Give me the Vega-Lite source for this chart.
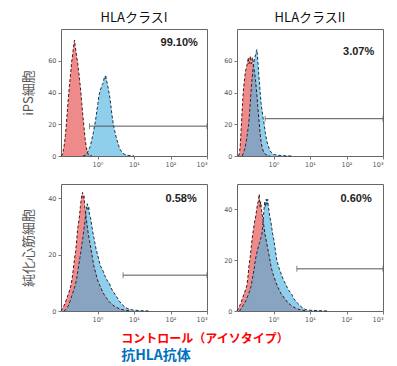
{
"$schema":"https://vega.github.io/schema/vega-lite/v6.json",
"padding":{"left":22,"top":11,"right":5,"bottom":5},
"background":"white",
"datasets":{
"hist":[
{"panel":"A","series":"control","logFL":-1,"count":0},{"panel":"A","series":"control","logFL":-0.97,"count":0.5},{"panel":"A","series":"control","logFL":-0.94,"count":3},{"panel":"A","series":"control","logFL":-0.91,"count":7},{"panel":"A","series":"control","logFL":-0.88,"count":13},{"panel":"A","series":"control","logFL":-0.86,"count":18},{"panel":"A","series":"control","logFL":-0.83,"count":27},{"panel":"A","series":"control","logFL":-0.8,"count":36},{"panel":"A","series":"control","logFL":-0.77,"count":44},{"panel":"A","series":"control","logFL":-0.74,"count":51},{"panel":"A","series":"control","logFL":-0.71,"count":59},{"panel":"A","series":"control","logFL":-0.69,"count":62},{"panel":"A","series":"control","logFL":-0.67,"count":66},{"panel":"A","series":"control","logFL":-0.65,"count":70},{"panel":"A","series":"control","logFL":-0.63,"count":73},{"panel":"A","series":"control","logFL":-0.61,"count":69},{"panel":"A","series":"control","logFL":-0.59,"count":66},{"panel":"A","series":"control","logFL":-0.57,"count":62},{"panel":"A","series":"control","logFL":-0.55,"count":60},{"panel":"A","series":"control","logFL":-0.52,"count":54},{"panel":"A","series":"control","logFL":-0.49,"count":48},{"panel":"A","series":"control","logFL":-0.46,"count":41},{"panel":"A","series":"control","logFL":-0.43,"count":33},{"panel":"A","series":"control","logFL":-0.4,"count":25},{"panel":"A","series":"control","logFL":-0.37,"count":18},{"panel":"A","series":"control","logFL":-0.34,"count":11},{"panel":"A","series":"control","logFL":-0.31,"count":6},{"panel":"A","series":"control","logFL":-0.28,"count":2.5},{"panel":"A","series":"control","logFL":-0.25,"count":1},{"panel":"A","series":"control","logFL":-0.2,"count":0.3},{"panel":"A","series":"control","logFL":-0.15,"count":0},
{"panel":"A","series":"antibody","logFL":-0.4,"count":0},{"panel":"A","series":"antibody","logFL":-0.33,"count":0.5},{"panel":"A","series":"antibody","logFL":-0.28,"count":2},{"panel":"A","series":"antibody","logFL":-0.24,"count":4},{"panel":"A","series":"antibody","logFL":-0.2,"count":6},{"panel":"A","series":"antibody","logFL":-0.16,"count":10},{"panel":"A","series":"antibody","logFL":-0.12,"count":14},{"panel":"A","series":"antibody","logFL":-0.08,"count":19},{"panel":"A","series":"antibody","logFL":-0.05,"count":23},{"panel":"A","series":"antibody","logFL":-0.02,"count":28},{"panel":"A","series":"antibody","logFL":0.01,"count":33},{"panel":"A","series":"antibody","logFL":0.04,"count":38},{"panel":"A","series":"antibody","logFL":0.07,"count":41},{"panel":"A","series":"antibody","logFL":0.1,"count":43},{"panel":"A","series":"antibody","logFL":0.13,"count":45},{"panel":"A","series":"antibody","logFL":0.16,"count":46},{"panel":"A","series":"antibody","logFL":0.18,"count":49},{"panel":"A","series":"antibody","logFL":0.2,"count":48},{"panel":"A","series":"antibody","logFL":0.22,"count":51},{"panel":"A","series":"antibody","logFL":0.24,"count":49},{"panel":"A","series":"antibody","logFL":0.27,"count":45},{"panel":"A","series":"antibody","logFL":0.3,"count":42},{"panel":"A","series":"antibody","logFL":0.33,"count":38},{"panel":"A","series":"antibody","logFL":0.36,"count":33},{"panel":"A","series":"antibody","logFL":0.39,"count":27},{"panel":"A","series":"antibody","logFL":0.42,"count":22},{"panel":"A","series":"antibody","logFL":0.45,"count":18},{"panel":"A","series":"antibody","logFL":0.48,"count":15},{"panel":"A","series":"antibody","logFL":0.52,"count":11},{"panel":"A","series":"antibody","logFL":0.56,"count":8},{"panel":"A","series":"antibody","logFL":0.6,"count":5},{"panel":"A","series":"antibody","logFL":0.65,"count":3},{"panel":"A","series":"antibody","logFL":0.7,"count":1.6},{"panel":"A","series":"antibody","logFL":0.75,"count":1},{"panel":"A","series":"antibody","logFL":0.82,"count":0.5},{"panel":"A","series":"antibody","logFL":0.9,"count":0.2},{"panel":"A","series":"antibody","logFL":1.0,"count":0},
{"panel":"B","series":"control","logFL":-0.96,"count":0},{"panel":"B","series":"control","logFL":-0.93,"count":2},{"panel":"B","series":"control","logFL":-0.91,"count":7},{"panel":"B","series":"control","logFL":-0.89,"count":15},{"panel":"B","series":"control","logFL":-0.87,"count":24},{"panel":"B","series":"control","logFL":-0.85,"count":32},{"panel":"B","series":"control","logFL":-0.83,"count":40},{"panel":"B","series":"control","logFL":-0.8,"count":47},{"panel":"B","series":"control","logFL":-0.77,"count":53},{"panel":"B","series":"control","logFL":-0.74,"count":56},{"panel":"B","series":"control","logFL":-0.71,"count":59},{"panel":"B","series":"control","logFL":-0.69,"count":62},{"panel":"B","series":"control","logFL":-0.67,"count":58},{"panel":"B","series":"control","logFL":-0.65,"count":61},{"panel":"B","series":"control","logFL":-0.63,"count":63},{"panel":"B","series":"control","logFL":-0.61,"count":58},{"panel":"B","series":"control","logFL":-0.59,"count":61},{"panel":"B","series":"control","logFL":-0.57,"count":62},{"panel":"B","series":"control","logFL":-0.55,"count":57},{"panel":"B","series":"control","logFL":-0.52,"count":53},{"panel":"B","series":"control","logFL":-0.49,"count":47},{"panel":"B","series":"control","logFL":-0.46,"count":40},{"panel":"B","series":"control","logFL":-0.43,"count":31},{"panel":"B","series":"control","logFL":-0.4,"count":23},{"panel":"B","series":"control","logFL":-0.37,"count":15},{"panel":"B","series":"control","logFL":-0.34,"count":9},{"panel":"B","series":"control","logFL":-0.31,"count":5},{"panel":"B","series":"control","logFL":-0.27,"count":2.5},{"panel":"B","series":"control","logFL":-0.22,"count":1},{"panel":"B","series":"control","logFL":-0.15,"count":0.3},{"panel":"B","series":"control","logFL":-0.1,"count":0},
{"panel":"B","series":"antibody","logFL":-0.86,"count":0},{"panel":"B","series":"antibody","logFL":-0.82,"count":2},{"panel":"B","series":"antibody","logFL":-0.78,"count":5},{"panel":"B","series":"antibody","logFL":-0.74,"count":10},{"panel":"B","series":"antibody","logFL":-0.71,"count":15},{"panel":"B","series":"antibody","logFL":-0.68,"count":20},{"panel":"B","series":"antibody","logFL":-0.65,"count":29},{"panel":"B","series":"antibody","logFL":-0.62,"count":39},{"panel":"B","series":"antibody","logFL":-0.59,"count":48},{"panel":"B","series":"antibody","logFL":-0.56,"count":55},{"panel":"B","series":"antibody","logFL":-0.53,"count":60},{"panel":"B","series":"antibody","logFL":-0.51,"count":62},{"panel":"B","series":"antibody","logFL":-0.49,"count":64},{"panel":"B","series":"antibody","logFL":-0.47,"count":66},{"panel":"B","series":"antibody","logFL":-0.455,"count":67},{"panel":"B","series":"antibody","logFL":-0.44,"count":63},{"panel":"B","series":"antibody","logFL":-0.42,"count":57},{"panel":"B","series":"antibody","logFL":-0.4,"count":50},{"panel":"B","series":"antibody","logFL":-0.38,"count":45},{"panel":"B","series":"antibody","logFL":-0.365,"count":40},{"panel":"B","series":"antibody","logFL":-0.34,"count":33},{"panel":"B","series":"antibody","logFL":-0.31,"count":28},{"panel":"B","series":"antibody","logFL":-0.28,"count":23},{"panel":"B","series":"antibody","logFL":-0.255,"count":20},{"panel":"B","series":"antibody","logFL":-0.22,"count":14},{"panel":"B","series":"antibody","logFL":-0.18,"count":9},{"panel":"B","series":"antibody","logFL":-0.14,"count":6},{"panel":"B","series":"antibody","logFL":-0.1,"count":3.5},{"panel":"B","series":"antibody","logFL":-0.05,"count":2},{"panel":"B","series":"antibody","logFL":0,"count":1},{"panel":"B","series":"antibody","logFL":0.1,"count":0.5},{"panel":"B","series":"antibody","logFL":0.2,"count":0.3},{"panel":"B","series":"antibody","logFL":0.35,"count":0.1},{"panel":"B","series":"antibody","logFL":0.5,"count":0},
{"panel":"C","series":"control","logFL":-1,"count":0},{"panel":"C","series":"control","logFL":-0.96,"count":0.8},{"panel":"C","series":"control","logFL":-0.92,"count":1.8},{"panel":"C","series":"control","logFL":-0.88,"count":3},{"panel":"C","series":"control","logFL":-0.84,"count":4.5},{"panel":"C","series":"control","logFL":-0.8,"count":6},{"panel":"C","series":"control","logFL":-0.76,"count":7.5},{"panel":"C","series":"control","logFL":-0.72,"count":9.5},{"panel":"C","series":"control","logFL":-0.69,"count":12},{"panel":"C","series":"control","logFL":-0.66,"count":15},{"panel":"C","series":"control","logFL":-0.63,"count":18.5},{"panel":"C","series":"control","logFL":-0.6,"count":21},{"panel":"C","series":"control","logFL":-0.57,"count":25},{"panel":"C","series":"control","logFL":-0.545,"count":29},{"panel":"C","series":"control","logFL":-0.52,"count":31},{"panel":"C","series":"control","logFL":-0.49,"count":34},{"panel":"C","series":"control","logFL":-0.47,"count":37},{"panel":"C","series":"control","logFL":-0.45,"count":39},{"panel":"C","series":"control","logFL":-0.43,"count":41},{"panel":"C","series":"control","logFL":-0.41,"count":42},{"panel":"C","series":"control","logFL":-0.39,"count":40},{"panel":"C","series":"control","logFL":-0.37,"count":41},{"panel":"C","series":"control","logFL":-0.35,"count":37},{"panel":"C","series":"control","logFL":-0.32,"count":34},{"panel":"C","series":"control","logFL":-0.29,"count":31},{"panel":"C","series":"control","logFL":-0.26,"count":28},{"panel":"C","series":"control","logFL":-0.22,"count":25},{"panel":"C","series":"control","logFL":-0.18,"count":22},{"panel":"C","series":"control","logFL":-0.14,"count":19},{"panel":"C","series":"control","logFL":-0.1,"count":16},{"panel":"C","series":"control","logFL":-0.05,"count":13.5},{"panel":"C","series":"control","logFL":0,"count":11},{"panel":"C","series":"control","logFL":0.05,"count":9.5},{"panel":"C","series":"control","logFL":0.1,"count":8},{"panel":"C","series":"control","logFL":0.15,"count":6.5},{"panel":"C","series":"control","logFL":0.2,"count":5.5},{"panel":"C","series":"control","logFL":0.25,"count":4.5},{"panel":"C","series":"control","logFL":0.3,"count":3.6},{"panel":"C","series":"control","logFL":0.4,"count":2.3},{"panel":"C","series":"control","logFL":0.5,"count":1.4},{"panel":"C","series":"control","logFL":0.6,"count":0.8},{"panel":"C","series":"control","logFL":0.7,"count":0.4},{"panel":"C","series":"control","logFL":0.8,"count":0.2},{"panel":"C","series":"control","logFL":0.9,"count":0},
{"panel":"C","series":"antibody","logFL":-0.92,"count":0},{"panel":"C","series":"antibody","logFL":-0.86,"count":0.6},{"panel":"C","series":"antibody","logFL":-0.8,"count":1.8},{"panel":"C","series":"antibody","logFL":-0.75,"count":3.5},{"panel":"C","series":"antibody","logFL":-0.7,"count":5.5},{"panel":"C","series":"antibody","logFL":-0.65,"count":7.5},{"panel":"C","series":"antibody","logFL":-0.6,"count":9.5},{"panel":"C","series":"antibody","logFL":-0.57,"count":11.5},{"panel":"C","series":"antibody","logFL":-0.54,"count":14},{"panel":"C","series":"antibody","logFL":-0.51,"count":16.5},{"panel":"C","series":"antibody","logFL":-0.48,"count":19},{"panel":"C","series":"antibody","logFL":-0.455,"count":21},{"panel":"C","series":"antibody","logFL":-0.43,"count":23.5},{"panel":"C","series":"antibody","logFL":-0.4,"count":26},{"panel":"C","series":"antibody","logFL":-0.38,"count":28},{"panel":"C","series":"antibody","logFL":-0.36,"count":30},{"panel":"C","series":"antibody","logFL":-0.34,"count":32},{"panel":"C","series":"antibody","logFL":-0.32,"count":35},{"panel":"C","series":"antibody","logFL":-0.3,"count":37},{"panel":"C","series":"antibody","logFL":-0.28,"count":38},{"panel":"C","series":"antibody","logFL":-0.26,"count":36},{"panel":"C","series":"antibody","logFL":-0.24,"count":37},{"panel":"C","series":"antibody","logFL":-0.22,"count":34},{"panel":"C","series":"antibody","logFL":-0.19,"count":33},{"panel":"C","series":"antibody","logFL":-0.16,"count":30.5},{"panel":"C","series":"antibody","logFL":-0.13,"count":28},{"panel":"C","series":"antibody","logFL":-0.1,"count":26},{"panel":"C","series":"antibody","logFL":-0.07,"count":24},{"panel":"C","series":"antibody","logFL":-0.04,"count":22},{"panel":"C","series":"antibody","logFL":0,"count":20},{"panel":"C","series":"antibody","logFL":0.04,"count":18},{"panel":"C","series":"antibody","logFL":0.08,"count":16},{"panel":"C","series":"antibody","logFL":0.12,"count":15},{"panel":"C","series":"antibody","logFL":0.16,"count":14},{"panel":"C","series":"antibody","logFL":0.2,"count":12.5},{"panel":"C","series":"antibody","logFL":0.24,"count":11.5},{"panel":"C","series":"antibody","logFL":0.28,"count":10.5},{"panel":"C","series":"antibody","logFL":0.32,"count":10},{"panel":"C","series":"antibody","logFL":0.36,"count":8.5},{"panel":"C","series":"antibody","logFL":0.4,"count":7.5},{"panel":"C","series":"antibody","logFL":0.45,"count":6.5},{"panel":"C","series":"antibody","logFL":0.5,"count":5.5},{"panel":"C","series":"antibody","logFL":0.55,"count":4.5},{"panel":"C","series":"antibody","logFL":0.6,"count":3.5},{"panel":"C","series":"antibody","logFL":0.65,"count":2.6},{"panel":"C","series":"antibody","logFL":0.7,"count":2},{"panel":"C","series":"antibody","logFL":0.75,"count":1.4},{"panel":"C","series":"antibody","logFL":0.8,"count":1},{"panel":"C","series":"antibody","logFL":0.9,"count":0.5},{"panel":"C","series":"antibody","logFL":1.0,"count":0.3},{"panel":"C","series":"antibody","logFL":1.2,"count":0.1},{"panel":"C","series":"antibody","logFL":1.4,"count":0},
{"panel":"D","series":"control","logFL":-1,"count":0},{"panel":"D","series":"control","logFL":-0.97,"count":0.8},{"panel":"D","series":"control","logFL":-0.93,"count":2},{"panel":"D","series":"control","logFL":-0.89,"count":3.2},{"panel":"D","series":"control","logFL":-0.85,"count":5},{"panel":"D","series":"control","logFL":-0.8,"count":7},{"panel":"D","series":"control","logFL":-0.76,"count":8.5},{"panel":"D","series":"control","logFL":-0.73,"count":10},{"panel":"D","series":"control","logFL":-0.7,"count":13.5},{"panel":"D","series":"control","logFL":-0.67,"count":18},{"panel":"D","series":"control","logFL":-0.64,"count":21},{"panel":"D","series":"control","logFL":-0.61,"count":25},{"panel":"D","series":"control","logFL":-0.58,"count":29},{"panel":"D","series":"control","logFL":-0.55,"count":32},{"panel":"D","series":"control","logFL":-0.52,"count":35},{"panel":"D","series":"control","logFL":-0.49,"count":37},{"panel":"D","series":"control","logFL":-0.46,"count":40},{"panel":"D","series":"control","logFL":-0.44,"count":42},{"panel":"D","series":"control","logFL":-0.42,"count":43},{"panel":"D","series":"control","logFL":-0.4,"count":45},{"panel":"D","series":"control","logFL":-0.39,"count":46},{"panel":"D","series":"control","logFL":-0.37,"count":41},{"panel":"D","series":"control","logFL":-0.35,"count":43},{"panel":"D","series":"control","logFL":-0.33,"count":40},{"panel":"D","series":"control","logFL":-0.3,"count":37},{"panel":"D","series":"control","logFL":-0.27,"count":34},{"panel":"D","series":"control","logFL":-0.23,"count":30},{"panel":"D","series":"control","logFL":-0.19,"count":27},{"panel":"D","series":"control","logFL":-0.15,"count":24},{"panel":"D","series":"control","logFL":-0.11,"count":21},{"panel":"D","series":"control","logFL":-0.06,"count":17},{"panel":"D","series":"control","logFL":0,"count":14},{"panel":"D","series":"control","logFL":0.05,"count":12},{"panel":"D","series":"control","logFL":0.1,"count":10},{"panel":"D","series":"control","logFL":0.15,"count":8.5},{"panel":"D","series":"control","logFL":0.2,"count":7},{"panel":"D","series":"control","logFL":0.3,"count":5},{"panel":"D","series":"control","logFL":0.4,"count":3.2},{"panel":"D","series":"control","logFL":0.5,"count":2},{"panel":"D","series":"control","logFL":0.6,"count":1.2},{"panel":"D","series":"control","logFL":0.7,"count":0.6},{"panel":"D","series":"control","logFL":0.8,"count":0.3},{"panel":"D","series":"control","logFL":0.9,"count":0},
{"panel":"D","series":"antibody","logFL":-0.93,"count":0},{"panel":"D","series":"antibody","logFL":-0.88,"count":1},{"panel":"D","series":"antibody","logFL":-0.82,"count":2.5},{"panel":"D","series":"antibody","logFL":-0.76,"count":4},{"panel":"D","series":"antibody","logFL":-0.7,"count":6},{"panel":"D","series":"antibody","logFL":-0.65,"count":8},{"panel":"D","series":"antibody","logFL":-0.61,"count":10},{"panel":"D","series":"antibody","logFL":-0.58,"count":12.5},{"panel":"D","series":"antibody","logFL":-0.55,"count":15},{"panel":"D","series":"antibody","logFL":-0.52,"count":17.5},{"panel":"D","series":"antibody","logFL":-0.5,"count":20},{"panel":"D","series":"antibody","logFL":-0.47,"count":22},{"panel":"D","series":"antibody","logFL":-0.44,"count":24},{"panel":"D","series":"antibody","logFL":-0.41,"count":25.5},{"panel":"D","series":"antibody","logFL":-0.38,"count":27},{"panel":"D","series":"antibody","logFL":-0.35,"count":28.5},{"panel":"D","series":"antibody","logFL":-0.32,"count":30},{"panel":"D","series":"antibody","logFL":-0.3,"count":33},{"panel":"D","series":"antibody","logFL":-0.28,"count":36},{"panel":"D","series":"antibody","logFL":-0.26,"count":40},{"panel":"D","series":"antibody","logFL":-0.24,"count":43},{"panel":"D","series":"antibody","logFL":-0.22,"count":41},{"panel":"D","series":"antibody","logFL":-0.2,"count":44},{"panel":"D","series":"antibody","logFL":-0.18,"count":42},{"panel":"D","series":"antibody","logFL":-0.16,"count":44},{"panel":"D","series":"antibody","logFL":-0.14,"count":41},{"panel":"D","series":"antibody","logFL":-0.12,"count":39},{"panel":"D","series":"antibody","logFL":-0.1,"count":37},{"panel":"D","series":"antibody","logFL":-0.07,"count":35},{"panel":"D","series":"antibody","logFL":-0.04,"count":32},{"panel":"D","series":"antibody","logFL":-0.02,"count":30},{"panel":"D","series":"antibody","logFL":0.01,"count":28},{"panel":"D","series":"antibody","logFL":0.04,"count":25},{"panel":"D","series":"antibody","logFL":0.07,"count":22},{"panel":"D","series":"antibody","logFL":0.09,"count":20},{"panel":"D","series":"antibody","logFL":0.12,"count":18.5},{"panel":"D","series":"antibody","logFL":0.15,"count":17},{"panel":"D","series":"antibody","logFL":0.2,"count":15},{"panel":"D","series":"antibody","logFL":0.25,"count":13},{"panel":"D","series":"antibody","logFL":0.3,"count":11.5},{"panel":"D","series":"antibody","logFL":0.35,"count":10},{"panel":"D","series":"antibody","logFL":0.4,"count":8.5},{"panel":"D","series":"antibody","logFL":0.45,"count":7.5},{"panel":"D","series":"antibody","logFL":0.5,"count":6.5},{"panel":"D","series":"antibody","logFL":0.55,"count":5},{"panel":"D","series":"antibody","logFL":0.6,"count":4},{"panel":"D","series":"antibody","logFL":0.65,"count":3.2},{"panel":"D","series":"antibody","logFL":0.7,"count":2.5},{"panel":"D","series":"antibody","logFL":0.75,"count":1.8},{"panel":"D","series":"antibody","logFL":0.8,"count":1.2},{"panel":"D","series":"antibody","logFL":0.85,"count":0.8},{"panel":"D","series":"antibody","logFL":0.9,"count":0.5},{"panel":"D","series":"antibody","logFL":1.0,"count":0.3},{"panel":"D","series":"antibody","logFL":1.2,"count":0.15},{"panel":"D","series":"antibody","logFL":1.5,"count":0}
],
"gate":[
{"panel":"A","logFL":-0.22,"logFL2":3,"count":18.8},
{"panel":"B","logFL":-0.23,"logFL2":3,"count":23.5},
{"panel":"C","logFL":0.7,"logFL2":3,"count":12.7},
{"panel":"D","logFL":0.64,"logFL2":3,"count":16.6}
],
"labels":[
{"panel":"A","logFL":2.75,"count":70.9,"label":"99.10%"},
{"panel":"B","logFL":2.76,"count":65.5,"label":"3.07%"},
{"panel":"C","logFL":2.72,"count":39.8,"label":"0.58%"},
{"panel":"D","logFL":2.69,"count":44.1,"label":"0.60%"}
]
},
"title":{"text":"コントロール（アイソタイプ）","subtitle":"抗HLA抗体","orient":"bottom","anchor":"start","frame":"bounds","dx":99,"offset":11,"font":"Noto Sans CJK JP","fontSize":12,"fontWeight":"bold","color":"#ff0000","subtitleFont":"Noto Sans CJK JP","subtitleFontSize":14,"subtitleFontWeight":"bold","subtitleColor":"#0070c0","subtitlePadding":3},
"vconcat":[
{"hconcat":[
{"width":146,"height":127,"title":"HLAクラスI","layer":[
{"data":{"name":"hist"},"transform":[{"filter":"datum.panel==='A'&&datum.series==='control'"}],"mark":{"type":"area","color":"#ef8a8a","opacity":1},
"encoding":{"x":{"field":"logFL","type":"quantitative","scale":{"domain":[-1,3]},"axis":{"values":[0,1,2,3],"title":null,"labelExpr":"datum.value===0?'10⁰':datum.value===1?'10¹':datum.value===2?'10²':'10³'"}},"y":{"field":"count","type":"quantitative","scale":{"domain":[0,77]},"axis":{"values":[0,20,40,60],"title":"iPS細胞"}}}},
{"data":{"name":"hist"},"transform":[{"filter":"datum.panel==='A'&&datum.series==='antibody'"}],"mark":{"type":"area","color":"#4db3df","opacity":0.63},"encoding":{"x":{"field":"logFL","type":"quantitative"},"y":{"field":"count","type":"quantitative"}}},
{"data":{"name":"hist"},"transform":[{"filter":"datum.panel==='A'&&datum.series==='control'"}],"mark":{"type":"line","color":"#4a1414","strokeDash":[3,2],"strokeWidth":1},"encoding":{"x":{"field":"logFL","type":"quantitative"},"y":{"field":"count","type":"quantitative"}}},
{"data":{"name":"hist"},"transform":[{"filter":"datum.panel==='A'&&datum.series==='antibody'"}],"mark":{"type":"line","color":"#163148","strokeDash":[3,2],"strokeWidth":1},"encoding":{"x":{"field":"logFL","type":"quantitative"},"y":{"field":"count","type":"quantitative"}}},
{"data":{"name":"gate"},"transform":[{"filter":"datum.panel==='A'"}],"mark":{"type":"rule","color":"#555","strokeWidth":1},"encoding":{"x":{"field":"logFL","type":"quantitative"},"x2":{"field":"logFL2"},"y":{"field":"count","type":"quantitative"}}},
{"data":{"name":"gate"},"transform":[{"filter":"datum.panel==='A'"}],"mark":{"type":"tick","orient":"vertical","size":6,"thickness":1,"color":"#555"},"encoding":{"x":{"field":"logFL","type":"quantitative"},"y":{"field":"count","type":"quantitative"}}},
{"data":{"name":"gate"},"transform":[{"filter":"datum.panel==='A'"}],"mark":{"type":"tick","orient":"vertical","size":6,"thickness":1,"color":"#555"},"encoding":{"x":{"field":"logFL2","type":"quantitative"},"y":{"field":"count","type":"quantitative"}}},
{"data":{"name":"labels"},"transform":[{"filter":"datum.panel==='A'"}],"mark":{"type":"text","align":"right","baseline":"middle","font":"Liberation Sans","fontSize":11,"fontWeight":"bold","color":"#222"},"encoding":{"x":{"field":"logFL","type":"quantitative"},"y":{"field":"count","type":"quantitative"},"text":{"field":"label"}}}
]},
{"width":146,"height":127,"title":"HLAクラスII","layer":[
{"data":{"name":"hist"},"transform":[{"filter":"datum.panel==='B'&&datum.series==='control'"}],"mark":{"type":"area","color":"#ef8a8a","opacity":1},
"encoding":{"x":{"field":"logFL","type":"quantitative","scale":{"domain":[-1,3]},"axis":{"values":[0,1,2,3],"title":null,"labelExpr":"datum.value===0?'10⁰':datum.value===1?'10¹':datum.value===2?'10²':'10³'"}},"y":{"field":"count","type":"quantitative","scale":{"domain":[0,71]},"axis":{"values":[0,20,40,60],"title":null}}}},
{"data":{"name":"hist"},"transform":[{"filter":"datum.panel==='B'&&datum.series==='antibody'"}],"mark":{"type":"area","color":"#4db3df","opacity":0.63},"encoding":{"x":{"field":"logFL","type":"quantitative"},"y":{"field":"count","type":"quantitative"}}},
{"data":{"name":"hist"},"transform":[{"filter":"datum.panel==='B'&&datum.series==='control'"}],"mark":{"type":"line","color":"#4a1414","strokeDash":[3,2],"strokeWidth":1},"encoding":{"x":{"field":"logFL","type":"quantitative"},"y":{"field":"count","type":"quantitative"}}},
{"data":{"name":"hist"},"transform":[{"filter":"datum.panel==='B'&&datum.series==='antibody'"}],"mark":{"type":"line","color":"#163148","strokeDash":[3,2],"strokeWidth":1},"encoding":{"x":{"field":"logFL","type":"quantitative"},"y":{"field":"count","type":"quantitative"}}},
{"data":{"name":"gate"},"transform":[{"filter":"datum.panel==='B'"}],"mark":{"type":"rule","color":"#555","strokeWidth":1},"encoding":{"x":{"field":"logFL","type":"quantitative"},"x2":{"field":"logFL2"},"y":{"field":"count","type":"quantitative"}}},
{"data":{"name":"gate"},"transform":[{"filter":"datum.panel==='B'"}],"mark":{"type":"tick","orient":"vertical","size":6,"thickness":1,"color":"#555"},"encoding":{"x":{"field":"logFL","type":"quantitative"},"y":{"field":"count","type":"quantitative"}}},
{"data":{"name":"gate"},"transform":[{"filter":"datum.panel==='B'"}],"mark":{"type":"tick","orient":"vertical","size":6,"thickness":1,"color":"#555"},"encoding":{"x":{"field":"logFL2","type":"quantitative"},"y":{"field":"count","type":"quantitative"}}},
{"data":{"name":"labels"},"transform":[{"filter":"datum.panel==='B'"}],"mark":{"type":"text","align":"right","baseline":"middle","font":"Liberation Sans","fontSize":11,"fontWeight":"bold","color":"#222"},"encoding":{"x":{"field":"logFL","type":"quantitative"},"y":{"field":"count","type":"quantitative"},"text":{"field":"label"}}}
]}
]},
{"hconcat":[
{"width":146,"height":127,"layer":[
{"data":{"name":"hist"},"transform":[{"filter":"datum.panel==='C'&&datum.series==='control'"}],"mark":{"type":"area","color":"#ef8a8a","opacity":1},
"encoding":{"x":{"field":"logFL","type":"quantitative","scale":{"domain":[-1,3]},"axis":{"values":[0,1,2,3],"title":null,"labelExpr":"datum.value===0?'10⁰':datum.value===1?'10¹':datum.value===2?'10²':'10³'"}},"y":{"field":"count","type":"quantitative","scale":{"domain":[0,43.4]},"axis":{"values":[0,10,20,30,40],"title":"純化心筋細胞"}}}},
{"data":{"name":"hist"},"transform":[{"filter":"datum.panel==='C'&&datum.series==='antibody'"}],"mark":{"type":"area","color":"#4db3df","opacity":0.63},"encoding":{"x":{"field":"logFL","type":"quantitative"},"y":{"field":"count","type":"quantitative"}}},
{"data":{"name":"hist"},"transform":[{"filter":"datum.panel==='C'&&datum.series==='control'"}],"mark":{"type":"line","color":"#4a1414","strokeDash":[3,2],"strokeWidth":1},"encoding":{"x":{"field":"logFL","type":"quantitative"},"y":{"field":"count","type":"quantitative"}}},
{"data":{"name":"hist"},"transform":[{"filter":"datum.panel==='C'&&datum.series==='antibody'"}],"mark":{"type":"line","color":"#163148","strokeDash":[3,2],"strokeWidth":1},"encoding":{"x":{"field":"logFL","type":"quantitative"},"y":{"field":"count","type":"quantitative"}}},
{"data":{"name":"gate"},"transform":[{"filter":"datum.panel==='C'"}],"mark":{"type":"rule","color":"#555","strokeWidth":1},"encoding":{"x":{"field":"logFL","type":"quantitative"},"x2":{"field":"logFL2"},"y":{"field":"count","type":"quantitative"}}},
{"data":{"name":"gate"},"transform":[{"filter":"datum.panel==='C'"}],"mark":{"type":"tick","orient":"vertical","size":6,"thickness":1,"color":"#555"},"encoding":{"x":{"field":"logFL","type":"quantitative"},"y":{"field":"count","type":"quantitative"}}},
{"data":{"name":"gate"},"transform":[{"filter":"datum.panel==='C'"}],"mark":{"type":"tick","orient":"vertical","size":6,"thickness":1,"color":"#555"},"encoding":{"x":{"field":"logFL2","type":"quantitative"},"y":{"field":"count","type":"quantitative"}}},
{"data":{"name":"labels"},"transform":[{"filter":"datum.panel==='C'"}],"mark":{"type":"text","align":"right","baseline":"middle","font":"Liberation Sans","fontSize":11,"fontWeight":"bold","color":"#222"},"encoding":{"x":{"field":"logFL","type":"quantitative"},"y":{"field":"count","type":"quantitative"},"text":{"field":"label"}}}
]},
{"width":146,"height":127,"layer":[
{"data":{"name":"hist"},"transform":[{"filter":"datum.panel==='D'&&datum.series==='control'"}],"mark":{"type":"area","color":"#ef8a8a","opacity":1},
"encoding":{"x":{"field":"logFL","type":"quantitative","scale":{"domain":[-1,3]},"axis":{"values":[0,1,2,3],"title":null,"labelExpr":"datum.value===0?'10⁰':datum.value===1?'10¹':datum.value===2?'10²':'10³'"}},"y":{"field":"count","type":"quantitative","scale":{"domain":[0,48]},"axis":{"values":[0,10,20,30,40],"title":null}}}},
{"data":{"name":"hist"},"transform":[{"filter":"datum.panel==='D'&&datum.series==='antibody'"}],"mark":{"type":"area","color":"#4db3df","opacity":0.63},"encoding":{"x":{"field":"logFL","type":"quantitative"},"y":{"field":"count","type":"quantitative"}}},
{"data":{"name":"hist"},"transform":[{"filter":"datum.panel==='D'&&datum.series==='control'"}],"mark":{"type":"line","color":"#4a1414","strokeDash":[3,2],"strokeWidth":1},"encoding":{"x":{"field":"logFL","type":"quantitative"},"y":{"field":"count","type":"quantitative"}}},
{"data":{"name":"hist"},"transform":[{"filter":"datum.panel==='D'&&datum.series==='antibody'"}],"mark":{"type":"line","color":"#163148","strokeDash":[3,2],"strokeWidth":1},"encoding":{"x":{"field":"logFL","type":"quantitative"},"y":{"field":"count","type":"quantitative"}}},
{"data":{"name":"gate"},"transform":[{"filter":"datum.panel==='D'"}],"mark":{"type":"rule","color":"#555","strokeWidth":1},"encoding":{"x":{"field":"logFL","type":"quantitative"},"x2":{"field":"logFL2"},"y":{"field":"count","type":"quantitative"}}},
{"data":{"name":"gate"},"transform":[{"filter":"datum.panel==='D'"}],"mark":{"type":"tick","orient":"vertical","size":6,"thickness":1,"color":"#555"},"encoding":{"x":{"field":"logFL","type":"quantitative"},"y":{"field":"count","type":"quantitative"}}},
{"data":{"name":"gate"},"transform":[{"filter":"datum.panel==='D'"}],"mark":{"type":"tick","orient":"vertical","size":6,"thickness":1,"color":"#555"},"encoding":{"x":{"field":"logFL2","type":"quantitative"},"y":{"field":"count","type":"quantitative"}}},
{"data":{"name":"labels"},"transform":[{"filter":"datum.panel==='D'"}],"mark":{"type":"text","align":"right","baseline":"middle","font":"Liberation Sans","fontSize":11,"fontWeight":"bold","color":"#222"},"encoding":{"x":{"field":"logFL","type":"quantitative"},"y":{"field":"count","type":"quantitative"},"text":{"field":"label"}}}
]}
]}
],
"config":{
"font":"Noto Sans CJK JP",
"view":{"stroke":"#666","strokeWidth":1},
"axis":{"grid":false,"domain":false,"labelFont":"DejaVu Sans","labelFontSize":6.5,"labelColor":"#555","tickColor":"#777","tickSize":3,"labelPadding":2,"titleFont":"Noto Sans CJK JP","titleFontSize":13,"titleFontWeight":"normal","titleColor":"#555","titlePadding":12},
"title":{"fontSize":13,"fontWeight":"normal","color":"#111","offset":4},
"concat":{"spacing":15}
}
}
